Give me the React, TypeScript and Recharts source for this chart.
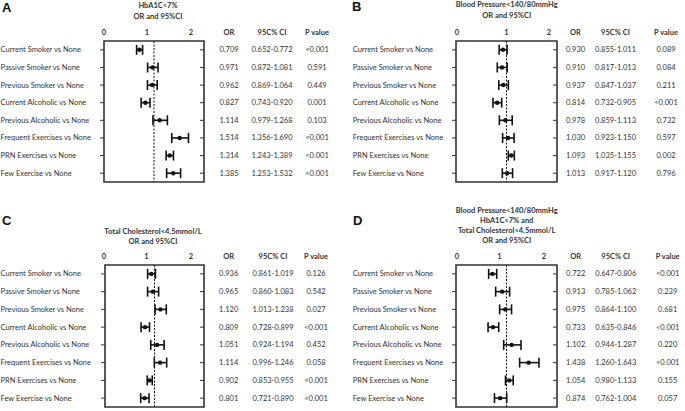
import React from "react";
import {
  ScatterChart,
  Scatter,
  XAxis,
  YAxis,
  ErrorBar,
  ReferenceLine,
  ReferenceArea,
} from "recharts";

// rows shared by all four panels
const categories = [
  "Current Smoker vs None",
  "Passive Smoker vs None",
  "Previous Smoker vs None",
  "Current Alcoholic vs None",
  "Previous Alcoholic vs None",
  "Frequent Exercises vs None",
  "PRN Exercises vs None",
  "Few Exercise vs None",
];
const xTicks = [0, 1, 2];
const rowTicks = [0, 1, 2, 3, 4, 5, 6, 7];
const headers = ["OR", "95C% CI", "P value"];

// A: HbA1C<7%
const orA = [0.709, 0.971, 0.962, 0.827, 1.114, 1.514, 1.314, 1.385];
const loA = [0.652, 0.872, 0.869, 0.743, 0.979, 1.356, 1.243, 1.253];
const hiA = [0.772, 1.081, 1.064, 0.92, 1.268, 1.69, 1.389, 1.532];
const pA = ["<0.001", "0.591", "0.449", "0.001", "0.103", "<0.001", "<0.001", "<0.001"];

// B: blood pressure
const orB = [0.93, 0.91, 0.937, 0.814, 0.978, 1.03, 1.093, 1.013];
const loB = [0.855, 0.817, 0.847, 0.732, 0.859, 0.923, 1.035, 0.917];
const hiB = [1.011, 1.013, 1.037, 0.905, 1.113, 1.15, 1.155, 1.12];
const pB = ["0.089", "0.084", "0.211", "<0.001", "0.732", "0.597", "0.002", "0.796"];

// C: total cholesterol
const orC = [0.936, 0.965, 1.12, 0.809, 1.051, 1.114, 0.902, 0.801];
const loC = [0.861, 0.86, 1.013, 0.728, 0.924, 0.996, 0.853, 0.721];
const hiC = [1.019, 1.083, 1.238, 0.899, 1.194, 1.246, 0.955, 0.89];
const pC = ["0.126", "0.542", "0.027", "<0.001", "0.452", "0.058", "<0.001", "<0.001"];

// D: all three targets
const orD = [0.722, 0.913, 0.975, 0.733, 1.102, 1.438, 1.054, 0.874];
const loD = [0.647, 0.785, 0.864, 0.635, 0.944, 1.26, 0.98, 0.762];
const hiD = [0.806, 1.062, 1.1, 0.846, 1.287, 1.643, 1.133, 1.004];
const pD = ["<0.001", "0.239", "0.681", "<0.001", "0.220", "<0.001", "0.155", "0.057"];

const FONT = "Lato, 'Open Sans', sans-serif";
const INK = "#333";
const W = 345;
const H = 205;

type Layout = {
  letter: string;
  left: number;
  top: number;
  plot: { l: number; r: number; t: number; b: number };
  shift: number[];
  cols: number[];
  labelX: number;
  titleX: number;
  titles: { text: string; y: number }[];
  letterPos: { x: number; y: number };
};

function Panel({
  lay,
  or,
  lo,
  hi,
  p,
}: {
  lay: Layout;
  or: number[];
  lo: number[];
  hi: number[];
  p: string[];
}) {
  const data = or.map((v, i) => ({
    row: i,
    or: v,
    err: [v - lo[i], hi[i] - v],
  }));
  const { plot } = lay;
  const topH = 14;

  // row label on the left, small dashes at both box edges, table columns on the right
  const RowTick = (props: any) => {
    const i = props.payload.value;
    const y = props.y;
    const vals = [or[i].toFixed(3), `${lo[i].toFixed(3)}-${hi[i].toFixed(3)}`, p[i]];
    return (
      <g>
        <text
          x={lay.labelX}
          y={y}
          dominantBaseline="central"
          fontSize={7.5}
          fill={INK}
          fontFamily={FONT}
        >
          {categories[i]}
        </text>
        <line x1={plot.l - 4} x2={plot.l} y1={y} y2={y} stroke={INK} strokeWidth={1} />
        <line x1={plot.r - 4} x2={plot.r} y1={y} y2={y} stroke={INK} strokeWidth={1} />
        {vals.map((v, k) => (
          <text
            key={k}
            x={lay.cols[k]}
            y={y}
            textAnchor="middle"
            dominantBaseline="central"
            fontSize={7.5}
            fill={INK}
            fontFamily={FONT}
          >
            {v}
          </text>
        ))}
      </g>
    );
  };

  const TopTick = (props: any) => (
    <text
      x={props.x + lay.shift[props.payload.value]}
      y={plot.t - 9}
      textAnchor="middle"
      dominantBaseline="central"
      fontSize={7.5}
      fontWeight="bold"
      fill={INK}
      fontFamily={FONT}
    >
      {props.payload.value}
    </text>
  );

  return (
    <div style={{ position: "absolute", left: lay.left, top: lay.top, width: W, height: H }}>
      <ScatterChart
        width={W}
        height={H}
        margin={{ top: plot.t - topH, bottom: H - plot.b, left: 0, right: W - plot.r }}
      >
        <XAxis
          type="number"
          dataKey="or"
          orientation="top"
          domain={[0, 2]}
          ticks={xTicks}
          height={topH}
          tickLine={false}
          axisLine={false}
          tick={TopTick}
          allowDataOverflow
        />
        <YAxis
          type="number"
          dataKey="row"
          domain={[-0.5, 7.5]}
          reversed
          ticks={rowTicks}
          interval={0}
          width={plot.l}
          tickLine={false}
          axisLine={false}
          tick={RowTick}
        />
        <ReferenceArea
          x1={0}
          x2={2}
          y1={-0.5}
          y2={7.5}
          fill="none"
          stroke={INK}
          strokeWidth={1.6}
          ifOverflow="visible"
        />
        <ReferenceLine x={1} stroke="#111" strokeDasharray="2 1.5" strokeWidth={1} />
        <Scatter
          data={data}
          isAnimationActive={false}
          shape={(s: any) => <circle cx={s.cx} cy={s.cy} r={2.2} fill="#111" />}
        >
          <ErrorBar
            dataKey="err"
            direction="x"
            width={5}
            stroke="#111"
            strokeWidth={1.6}
            isAnimationActive={false}
          />
        </Scatter>
      </ScatterChart>
      <svg
        width={W}
        height={H}
        style={{ position: "absolute", left: 0, top: 0, pointerEvents: "none" }}
      >
        <text
          x={lay.letterPos.x}
          y={lay.letterPos.y}
          dominantBaseline="central"
          fontSize={13}
          fontWeight="bold"
          fill="#111"
          fontFamily="'Liberation Sans', Arial, sans-serif"
        >
          {lay.letter}
        </text>
        {lay.titles.map((t, k) => (
          <text
            key={k}
            x={lay.titleX}
            y={t.y}
            textAnchor="middle"
            dominantBaseline="central"
            fontSize={7.5}
            fontWeight="bold"
            fill={INK}
            fontFamily={FONT}
          >
            {t.text}
          </text>
        ))}
        {headers.map((h, k) => (
          <text
            key={h}
            x={lay.cols[k]}
            y={plot.t - 9}
            textAnchor="middle"
            dominantBaseline="central"
            fontSize={7.5}
            fontWeight="bold"
            fill={INK}
            fontFamily={FONT}
          >
            {h}
          </text>
        ))}
      </svg>
    </div>
  );
}

const layA: Layout = {
  letter: "A",
  left: 0,
  top: 0,
  plot: { l: 104, r: 204, t: 41, b: 182 },
  shift: [0, -7, -13],
  cols: [229, 272, 317],
  labelX: 0.5,
  titleX: 158,
  titles: [
    { text: "HbA1C<7%", y: 5 },
    { text: "OR and 95%CI", y: 16.5 },
  ],
  letterPos: { x: 2, y: 7 },
};
const layB: Layout = {
  letter: "B",
  left: 345,
  top: 0,
  plot: { l: 111, r: 212, t: 41, b: 182 },
  shift: [1, 0, -8],
  cols: [230.5, 270.5, 321],
  labelX: 7.7,
  titleX: 161.7,
  titles: [
    { text: "Blood Pressure<140/80mmHg", y: 4.5 },
    { text: "OR and 95%CI", y: 15 },
  ],
  letterPos: { x: 7, y: 6 },
};
const layC: Layout = {
  letter: "C",
  left: 0,
  top: 205,
  plot: { l: 105, r: 204, t: 60, b: 202 },
  shift: [-1, -8, -13],
  cols: [228.7, 273, 316],
  labelX: 0.5,
  titleX: 153,
  titles: [
    { text: "Total Cholesterol<4.5mmol/L", y: 26 },
    { text: "OR and 95%CI", y: 36.5 },
  ],
  letterPos: { x: 2, y: 15 },
};
const layD: Layout = {
  letter: "D",
  left: 345,
  top: 205,
  plot: { l: 111, r: 212, t: 60, b: 202 },
  shift: [1, -7, -13],
  cols: [230.7, 270.7, 322.7],
  labelX: 7.7,
  titleX: 161.7,
  titles: [
    { text: "Blood Pressure<140/80mmHg", y: 5 },
    { text: "HbA1C<7% and", y: 15 },
    { text: "Total Cholesterol<4.5mmol/L", y: 25 },
    { text: "OR and 95%CI", y: 35 },
  ],
  letterPos: { x: 8, y: 15 },
};

export default function App() {
  return (
    <div
      style={{
        position: "absolute",
        left: 0,
        top: 0,
        width: 685,
        height: 411,
        background: "#fff",
        overflow: "hidden",
      }}
    >
      <Panel lay={layA} or={orA} lo={loA} hi={hiA} p={pA} />
      <Panel lay={layB} or={orB} lo={loB} hi={hiB} p={pB} />
      <Panel lay={layC} or={orC} lo={loC} hi={hiC} p={pC} />
      <Panel lay={layD} or={orD} lo={loD} hi={hiD} p={pD} />
    </div>
  );
}
